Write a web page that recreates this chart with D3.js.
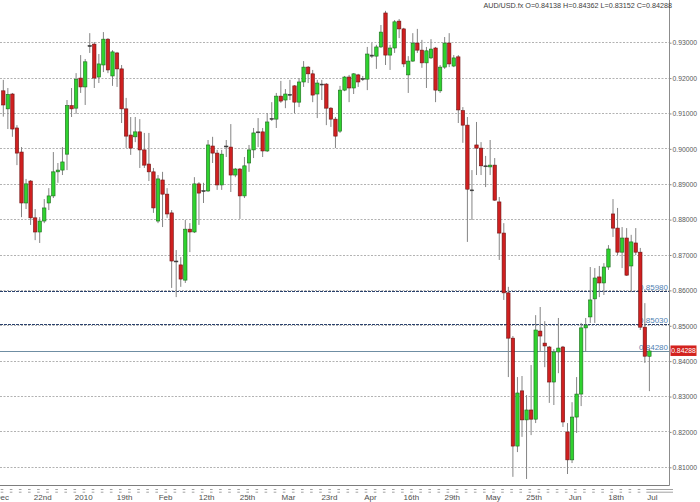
<!DOCTYPE html>
<html><head><meta charset="utf-8">
<script src="https://cdn.jsdelivr.net/npm/d3@7"></script>
<style>
body{margin:0;background:#fff}
svg{display:block}
text{font-family:"Liberation Sans",Arial,sans-serif}
</style>
</head><body>
<svg id="c" width="700" height="502"></svg>
<script>
// ---- data (daily AUD/USD candles, bar index 0..142) ----
const opens = [
0.9164,0.9113,0.9155,0.9059,0.8991,0.8847,0.8909,0.8805,0.8765,0.8796,
0.8847,0.8867,0.8935,0.8940,0.8985,0.9122,0.9115,0.9200,0.9175,0.9291,
0.9296,0.9203,0.9237,0.9310,0.9206,0.9271,0.9226,0.9113,0.9039,0.9034,
0.9048,0.8997,0.8957,0.8935,0.8796,0.8912,0.8872,0.8819,0.8683,0.8672,
0.8629,0.8773,0.8765,0.8901,0.8881,0.8881,0.9008,0.8988,0.8898,0.9007,
0.9005,0.8926,0.8943,0.8867,0.8960,0.8997,0.9048,0.9048,0.8994,0.9084,
0.9084,0.9149,0.9138,0.9152,0.9178,0.9132,0.9189,0.9231,0.9212,0.9155,
0.9183,0.9183,0.9115,0.9084,0.9050,0.9166,0.9203,0.9172,0.9209,0.9197,
0.9197,0.9265,0.9262,0.9288,0.9384,0.9265,0.9285,0.9361,0.9339,0.9209,
0.9248,0.9299,0.9279,0.9243,0.9257,0.9285,0.9164,0.9231,0.9299,0.9234,
0.9260,0.9108,0.9067,0.8884,0.9011,0.9002,0.8952,0.8949,0.8954,0.8850,
0.8762,0.8593,0.8465,0.8160,0.8316,0.8234,0.8262,0.8236,0.8485,0.8451,
0.8440,0.8341,0.8426,0.8440,0.8200,0.8121,0.8242,0.8307,0.8494,0.8525,
0.8576,0.8638,0.8621,0.8666,0.8816,0.8776,0.8708,0.8748,0.8669,0.8734,
0.8708,0.8496,0.84138];
const highs = [
0.9195,0.9172,0.9158,0.9067,0.9005,0.8915,0.8912,0.8830,0.8807,0.8858,
0.8889,0.8991,0.8960,0.9005,0.9138,0.9172,0.9214,0.9265,0.9254,0.9327,
0.9302,0.9268,0.9330,0.9313,0.9279,0.9274,0.9237,0.9144,0.9090,0.9090,
0.9084,0.9045,0.9045,0.8946,0.8926,0.8935,0.8889,0.8827,0.8714,0.8694,
0.8799,0.8790,0.8920,0.8906,0.8904,0.9025,0.9034,0.8997,0.8997,0.9025,
0.9070,0.8946,0.8946,0.8977,0.9011,0.9059,0.9087,0.9059,0.9101,0.9132,
0.9158,0.9192,0.9169,0.9195,0.9180,0.9200,0.9248,0.9234,0.9223,0.9195,
0.9195,0.9186,0.9118,0.9090,0.9178,0.9206,0.9209,0.9214,0.9212,0.9206,
0.9288,0.9299,0.9294,0.9350,0.9390,0.9294,0.9364,0.9367,0.9342,0.9262,
0.9327,0.9339,0.9308,0.9288,0.9310,0.9288,0.9237,0.9316,0.9327,0.9265,
0.9265,0.9118,0.9090,0.8940,0.9076,0.9019,0.8980,0.9025,0.8974,0.8864,
0.8790,0.8610,0.8471,0.8355,0.8358,0.8304,0.8389,0.8530,0.8553,0.8513,
0.8443,0.8434,0.8522,0.8443,0.8225,0.8284,0.8355,0.8508,0.8522,0.8666,
0.8663,0.8669,0.8677,0.8728,0.8858,0.8833,0.8779,0.8776,0.8757,0.8776,
0.8720,0.8564,0.84362];
const lows = [
0.9091,0.9056,0.9034,0.8954,0.8807,0.8830,0.8785,0.8742,0.8734,0.8790,
0.8827,0.8861,0.8904,0.8926,0.8940,0.9090,0.9099,0.9158,0.9124,0.9271,
0.9172,0.9186,0.9217,0.9214,0.9178,0.9175,0.9073,0.9002,0.8983,0.9019,
0.8946,0.8946,0.8909,0.8819,0.8790,0.8779,0.8805,0.8607,0.8581,0.8610,
0.8621,0.8708,0.8762,0.8785,0.8847,0.8878,0.8960,0.8884,0.8884,0.8977,
0.8878,0.8920,0.8802,0.8861,0.8935,0.8974,0.9005,0.8977,0.8991,0.9079,
0.9059,0.9130,0.9115,0.9138,0.9101,0.9118,0.9175,0.9186,0.9132,0.9087,
0.9138,0.9067,0.9062,0.9002,0.9045,0.9163,0.9132,0.9155,0.9175,0.9192,
0.9166,0.9257,0.9226,0.9285,0.9237,0.9223,0.9271,0.9313,0.9231,0.9158,
0.9246,0.9271,0.9229,0.9172,0.9254,0.9132,0.9158,0.9226,0.9231,0.9231,
0.9073,0.9017,0.8737,0.8799,0.8926,0.8926,0.8892,0.8926,0.8853,0.8686,
0.8573,0.8355,0.8073,0.8143,0.8186,0.8067,0.8191,0.8225,0.8426,0.8383,
0.8282,0.8276,0.8366,0.8214,0.8081,0.8112,0.8197,0.8273,0.8426,0.8508,
0.8508,0.8581,0.8587,0.8658,0.8751,0.8700,0.8663,0.8641,0.8595,0.8700,
0.8488,0.8395,0.83152];
const closes = [
0.9124,0.9154,0.9056,0.8988,0.8847,0.8901,0.8805,0.8765,0.8796,0.8833,
0.8867,0.8935,0.8940,0.8963,0.9122,0.9113,0.9197,0.9175,0.9246,0.9292,
0.9200,0.9240,0.9310,0.9223,0.9274,0.9226,0.9113,0.9036,0.9002,0.9048,
0.8997,0.8954,0.8935,0.8833,0.8915,0.8872,0.8816,0.8683,0.8682,0.8632,
0.8773,0.8765,0.8901,0.8875,0.8882,0.9011,0.8988,0.8898,0.8985,0.9008,
0.8926,0.8943,0.8867,0.8952,0.8997,0.9045,0.9046,0.8994,0.9076,0.9086,
0.9149,0.9135,0.9155,0.9154,0.9132,0.9189,0.9231,0.9212,0.9152,0.9186,
0.9182,0.9115,0.9084,0.9036,0.9166,0.9203,0.9172,0.9212,0.9189,0.9199,
0.9268,0.9262,0.9288,0.9330,0.9265,0.9285,0.9359,0.9339,0.9240,0.9248,
0.9299,0.9279,0.9243,0.9277,0.9282,0.9166,0.9231,0.9299,0.9240,0.9257,
0.9110,0.9067,0.8886,0.8882,0.9002,0.8952,0.8950,0.8954,0.8855,0.8762,
0.8593,0.8465,0.8160,0.8310,0.8234,0.8262,0.8236,0.8488,0.8471,0.8443,
0.8341,0.8426,0.8437,0.8228,0.8121,0.8242,0.8307,0.8494,0.8502,0.8573,
0.8635,0.8621,0.8666,0.8717,0.8776,0.8708,0.8748,0.8643,0.8737,0.8708,
0.8496,0.8414,0.84288];

const dateTickBars   = [0, 9, 18, 27, 36, 45, 54, 63, 72, 81, 90, 99, 108, 117, 126, 135, 143];
const dateTickLabels = ["Dec","22nd","2010","19th","Feb","12th","25th","Mar","23rd","Apr","16th","29th","May","25th","Jun","18th","Jul"];
const priceTicks = [0.81,0.82,0.83,0.84,0.85,0.86,0.87,0.88,0.89,0.90,0.91,0.92,0.93];
const levelValues = [0.85980, 0.85030, 0.84280];
const levelLabels = ["0.85980", "0.85030", "0.84280"];
const levelSolid  = [false, false, true];
const symbol = "AUD/USD.fx";

// ---- chart ----
const n = opens.length;
const bars = d3.range(n).map(i => ({i, o: opens[i], h: highs[i], l: lows[i], c: closes[i]}));
const last = bars[n - 1];

const svg = d3.select("#c");
const plotRight = 669.5, axisY = 485.5;
const x = d3.scaleLinear().domain([0, 142]).range([3.3, 649.4]);
const y = d3.scaleLinear().domain([0.81, 0.93]).range([467.3, 42.7]);
const px = v => Math.floor(y(v)) + 0.5;

// gridlines
svg.append("g").selectAll("line").data(priceTicks).join("line")
  .attr("x1", 0).attr("x2", plotRight)
  .attr("y1", d => px(d)).attr("y2", d => px(d))
  .attr("stroke", "#b2b2b2").attr("stroke-width", 1).attr("stroke-dasharray", "2,1.5");

// level lines
const lv = svg.append("g");
levelValues.forEach((v, k) => {
  lv.append("line").attr("x1", 0).attr("x2", plotRight)
    .attr("y1", px(v)).attr("y2", px(v))
    .attr("stroke", levelSolid[k] ? "#6f8ea3" : "#2a416c")
    .attr("stroke-width", 1)
    .attr("stroke-dasharray", levelSolid[k] ? null : "3,1");
});

// candles
const cg = svg.append("g");
cg.selectAll("line.wick").data(bars).join("line").attr("class", "wick")
  .attr("x1", d => x(d.i)).attr("x2", d => x(d.i))
  .attr("y1", d => y(d.h)).attr("y2", d => y(d.l))
  .attr("stroke", "#858585").attr("stroke-width", 1);
const bw = 3.4;
cg.selectAll("rect.body").data(bars).join("rect").attr("class", "body")
  .attr("x", d => x(d.i) - bw / 2)
  .attr("width", bw)
  .attr("y", d => y(Math.max(d.o, d.c)))
  .attr("height", d => Math.max(Math.abs(y(d.o) - y(d.c)), 0.9))
  .attr("fill", d => Math.abs(y(d.o) - y(d.c)) < 1.2 ? "#3a3a3a" : (d.c >= d.o ? "#2fd22f" : "#cf2020"))
  .attr("stroke", d => Math.abs(y(d.o) - y(d.c)) < 1.2 ? "#3a3a3a" : (d.c >= d.o ? "#1d6a1d" : "#6e1313"))
  .attr("stroke-width", 0.6);

// level labels
levelValues.forEach((v, k) => {
  lv.append("text").attr("x", 668).attr("y", px(v) - 2)
    .attr("text-anchor", "end").attr("font-size", 8).attr("fill", "#4f7fb3")
    .text(levelLabels[k]);
});

// right price axis
const ra = svg.append("g").attr("transform", `translate(${plotRight},0)`)
  .call(d3.axisRight(y).tickValues(priceTicks).tickFormat(d3.format(".5f")).tickSize(2).tickPadding(1));
ra.select(".domain").remove();
ra.selectAll(".tick line").attr("stroke", "#888");
ra.selectAll(".tick text").attr("font-size", 6.8).attr("fill", "#5a5a5a")
  .attr("font-family", '"Liberation Sans",Arial,sans-serif').attr("dy", "0.33em");
svg.append("line").attr("x1", plotRight).attr("x2", plotRight).attr("y1", 0).attr("y2", axisY)
  .attr("stroke", "#8c8c8c").attr("stroke-width", 1);

// bottom axis
svg.append("line").attr("x1", 0).attr("x2", plotRight).attr("y1", axisY).attr("y2", axisY)
  .attr("stroke", "#7d7d7d").attr("stroke-width", 1);
const tb = svg.append("g");
const tickMarks = d3.range(0, 142, 2);
[489.5, 492.2].forEach(yy => {
  tb.selectAll(null).data(tickMarks).join("line")
    .attr("x1", d => x(d) - 2.6).attr("x2", d => x(d))
    .attr("y1", yy).attr("y2", yy)
    .attr("stroke", "#8a8a8a").attr("stroke-width", 0.8);
  tb.append("line").attr("x1", x(141) + 1.5).attr("x2", 673).attr("y1", yy).attr("y2", yy)
    .attr("stroke", "#8a8a8a").attr("stroke-width", 0.8);
});
const ba = svg.append("g").attr("transform", `translate(-2,${axisY})`)
  .call(d3.axisBottom(x).tickValues(dateTickBars).tickFormat((d, k) => dateTickLabels[k]).tickSize(0).tickPadding(8.5));
ba.select(".domain").remove();
ba.selectAll(".tick text").attr("font-size", 8).attr("fill", "#505050")
  .attr("font-family", '"Liberation Sans",Arial,sans-serif');

// title
const f5 = d3.format(".5f");
svg.append("text").attr("x", 672).attr("y", 7.6).attr("text-anchor", "end")
  .attr("font-size", 7.2).attr("fill", "#3c3c3c")
  .text(`${symbol} O=${f5(last.o)} H=${f5(last.h)} L=${f5(last.l)} C=${f5(last.c)}`);

// current price tag
svg.append("rect").attr("x", 670.5).attr("y", y(last.c) - 5.5).attr("width", 26).attr("height", 10.5)
  .attr("fill", "#d3221e");
svg.append("text").attr("x", 683.5).attr("y", y(last.c) + 2.4).attr("text-anchor", "middle")
  .attr("font-size", 6.8).attr("fill", "#fff").text(f5(last.c));
</script>
</body></html>
